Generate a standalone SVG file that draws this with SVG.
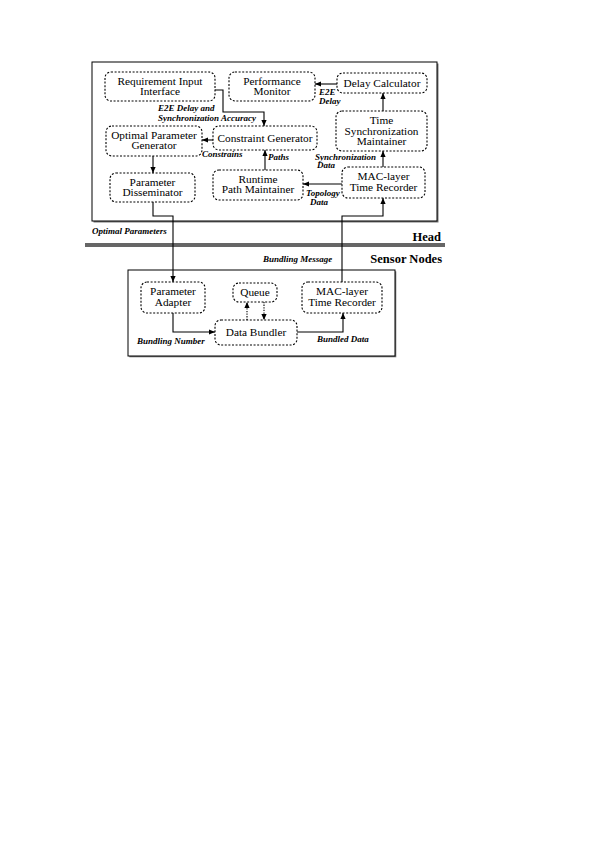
<svg xmlns="http://www.w3.org/2000/svg" width="608" height="860" viewBox="0 0 608 860">
<style>
.node rect{fill:#fff;stroke:#000;stroke-width:1.1;stroke-dasharray:2,1.6}
.node text{font-family:"Liberation Serif","Times New Roman",serif;font-size:11.3px;text-anchor:middle;fill:#000}
.lbl{font-family:"Liberation Serif","Times New Roman",serif;font-size:9px;font-style:italic;font-weight:bold;fill:#000}
.title{font-family:"Liberation Serif","Times New Roman",serif;font-size:12.5px;font-weight:bold;fill:#000}
.conn path{fill:none;stroke:#000;stroke-width:1.1}
.conn path.dot{stroke-dasharray:1.3,1.3}
</style>
<defs>
<marker id="ah" markerUnits="userSpaceOnUse" markerWidth="6" markerHeight="6" viewBox="0 0 6 6" refX="6" refY="3" orient="auto">
<path d="M0,0.4 L6,3 L0,5.6 Z" fill="#000"/>
</marker>
</defs>
<rect width="608" height="860" fill="#fff"/>
<g id="frames">
<rect x="93.5" y="63.5" width="345" height="159" fill="#777"/>
<rect x="92" y="62" width="345" height="159" fill="#fff" stroke="#000" stroke-width="1"/>
<rect x="85" y="243" width="360" height="4" fill="#666"/>
<rect x="129.3" y="271.3" width="267" height="86" fill="#777"/>
<rect x="128" y="270" width="267" height="86" fill="#fff" stroke="#000" stroke-width="1"/>
<text class="title" x="441" y="241" text-anchor="end">Head</text>
<text class="title" x="442" y="263" text-anchor="end">Sensor Nodes</text>
</g>
<g id="n-rii" class="node"><rect x="105" y="72" width="110" height="29" rx="6"/><text x="160" y="84.5">Requirement Input</text><text x="160" y="95">Interface</text></g>
<g id="n-pm" class="node"><rect x="229" y="72" width="86" height="29" rx="6"/><text x="272" y="84.5">Performance</text><text x="272" y="95">Monitor</text></g>
<g id="n-dc" class="node"><rect x="337" y="73" width="90" height="20" rx="6"/><text x="382" y="87">Delay Calculator</text></g>
<g id="n-tsm" class="node"><rect x="336" y="111" width="91" height="40" rx="6"/><text x="381.5" y="124">Time</text><text x="381.5" y="134.5">Synchronization</text><text x="381.5" y="145">Maintainer</text></g>
<g id="n-opg" class="node"><rect x="106" y="126" width="96" height="30" rx="6"/><text x="154" y="138.5">Optimal Parameter</text><text x="154" y="149">Generator</text></g>
<g id="n-cg" class="node"><rect x="213" y="126" width="104" height="24" rx="6"/><text x="265" y="142">Constraint Generator</text></g>
<g id="n-pd" class="node"><rect x="110" y="173" width="85" height="29" rx="6"/><text x="152.5" y="185.5">Parameter</text><text x="152.5" y="196">Disseminator</text></g>
<g id="n-rpm" class="node"><rect x="213" y="170" width="90" height="30" rx="6"/><text x="258" y="182.5">Runtime</text><text x="258" y="193">Path Maintainer</text></g>
<g id="n-mach" class="node"><rect x="342" y="167" width="83" height="31" rx="6"/><text x="383.5" y="180">MAC-layer</text><text x="383.5" y="190.5">Time Recorder</text></g>
<g id="n-pa" class="node"><rect x="141" y="282" width="64" height="31" rx="6"/><text x="173" y="295">Parameter</text><text x="173" y="305.5">Adapter</text></g>
<g id="n-q" class="node"><rect x="233" y="283" width="44" height="19" rx="6"/><text x="255" y="296">Queue</text></g>
<g id="n-db" class="node"><rect x="215" y="320" width="82" height="25" rx="6"/><text x="256" y="336">Data Bundler</text></g>
<g id="n-macs" class="node"><rect x="302" y="282" width="80" height="31" rx="6"/><text x="342" y="295">MAC-layer</text><text x="342" y="305.5">Time Recorder</text></g>
<g id="connectors" class="conn">
<path d="M215,90 H223 V112 H264 V126" marker-end="url(#ah)"/>
<path d="M337,84 H315" marker-end="url(#ah)"/>
<path d="M383,111 V93" marker-end="url(#ah)"/>
<path d="M383,167 V151" marker-end="url(#ah)"/>
<path d="M342,184 H303" marker-end="url(#ah)"/>
<path d="M265,170 V150" marker-end="url(#ah)"/>
<path d="M213,140 H202" marker-end="url(#ah)"/>
<path d="M153,156 V173" marker-end="url(#ah)"/>
<path d="M153,202 V216 H173 V282" marker-end="url(#ah)"/>
<path d="M342,282 V216 H383 V198" marker-end="url(#ah)"/>
<path d="M173,313 V332 H215" marker-end="url(#ah)"/>
<path class="dot" d="M247,320 V302" marker-end="url(#ah)"/>
<path class="dot" d="M264,302 V320" marker-end="url(#ah)"/>
<path d="M297,332 H343 V313" marker-end="url(#ah)"/>
</g>
<g id="labels">
<text class="lbl" x="158" y="111">E2E Delay and</text>
<text class="lbl" x="158" y="120.5">Synchronization Accuracy</text>
<text class="lbl" x="319" y="95">E2E</text>
<text class="lbl" x="319" y="103.5">Delay</text>
<text class="lbl" x="315" y="159.5">Synchronization</text>
<text class="lbl" x="317" y="168">Data</text>
<text class="lbl" x="306" y="196">Topology</text>
<text class="lbl" x="310" y="205">Data</text>
<text class="lbl" x="268" y="160">Paths</text>
<text class="lbl" x="202" y="157">Constrains</text>
<text class="lbl" x="92" y="234">Optimal Parameters</text>
<text class="lbl" x="263" y="262">Bundling Message</text>
<text class="lbl" x="137" y="344">Bundling Number</text>
<text class="lbl" x="317" y="342">Bundled Data</text>
</g>
</svg>
